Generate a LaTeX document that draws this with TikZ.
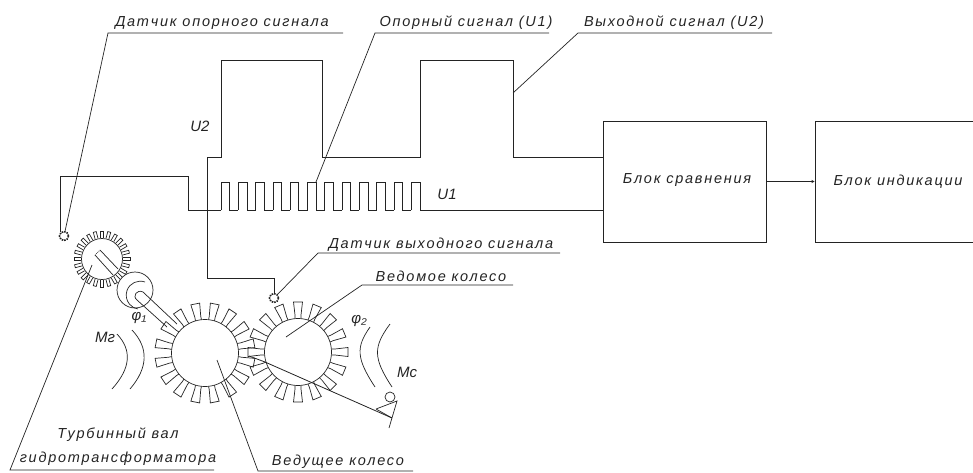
\documentclass[tikz,border=0pt]{standalone}
\usepackage{fontspec}
\setmainfont{Liberation Sans}
\newfontfamily\cadfont[LetterSpace=12]{Liberation Sans}
\usetikzlibrary{arrows.meta, calc}
\definecolor{inkline}{RGB}{35, 35, 35}
\tikzset{
  wire/.style={line width=0.8pt, color=inkline},
  thinline/.style={line width=0.7pt, color=inkline},
  caption/.style={inner sep=0pt, text=inkline, font=\fontsize{14.5}{14.5}\cadfont\itshape},
  smallcap/.style={inner sep=0pt, text=inkline, font=\fontsize{15}{15}\itshape},
  unitblock/.style={rectangle, draw=inkline, line width=1pt, fill=white, minimum height=121pt, inner sep=0pt},
  sensor/.style={circle, draw=inkline, line width=1.6pt, densely dotted, minimum size=9pt, inner sep=0pt},
  arrow/.style={-{Stealth[length=3pt, width=3pt]}, wire},
}
\begin{document}
\begin{tikzpicture}[x=1pt, y=-1pt]
        \useasboundingbox (0,0) rectangle (973,472);

        \node[unitblock, minimum width=163pt] (cmp) at (684.5,181.5) {};
        \node[unitblock, minimum width=162pt] (ind) at (896,181.5) {};
        \node[caption] (cmptext) at (687,180) {Блок сравнения};
        \node[caption] (indtext) at (898,182) {Блок индикации};
        \draw[arrow] (cmp.east) -- (ind.west);

        \node[sensor] (sensa) at (64,236) {};
        \node[sensor] (sensb) at (274,298) {};
        \coordinate (cmpua) at (cmp.west |- 0,210);
        \coordinate (cmpub) at (cmp.west |- 0,157);

        % signals
        \draw[wire] (sensa.north west) |- (188,176) |- (221,210);
        \foreach \k [evaluate=\k as \px using {221+8.65*\k}, evaluate=\k as \qx using {221+8.65*(\k+1)},
                     evaluate=\k as \rx using {221+8.65*(\k+2)}] in {0,2,...,22}
          \draw[wire] (\px,210) -- (\px,182) -- (\qx,182) -- (\qx,210) -- (\rx,210);
        \draw[wire] (420,210) -- (cmpua);
        \draw[wire] (sensb.north) |- (207.5,278) |- (221,157) |- (322,60) |- (420,157) |- (513,60) |- (cmpub);
        \node[smallcap] (lua) at (447,194) {U1};
        \node[smallcap] (lub) at (200,126) {U2};

        % turbine wheel
        \coordinate (turb) at (102,259);
        \draw[thinline] (turb) circle[radius=20.5];
        \foreach \a in {0,15,...,345}
          \draw[thinline, shift={(turb)}, rotate=\a] (21,-1.5) -- (28,-1.5) -- (28,1.5) -- (21,1.5);
        \draw[thinline] (95,255) -- (113,275) (100,250) -- (118,269);
        \draw[thinline, densely dotted] (95,255) -- (100,250);

        % coupling and shaft
        \coordinate (cpl) at (135,290);
        \draw[thinline, fill=white] (cpl) circle[radius=18];
        \draw[thinline] (145,282) arc[start angle=-70, end angle=-260, radius=14];
        \draw[thinline] (177,324) -- (143,292) .. controls (137,289) and (132,296) .. (137,300) -- (167,327);

        % wheels
        \coordinate (drv) at (205,353);
        \coordinate (drn) at (298,352);
        \foreach \gc/\off in {drv/11.25, drn/0} {
          \draw[thinline] (\gc) circle[radius=33.5];
          \foreach \n [evaluate=\n as \a using {\off+22.5*\n}] in {0,...,15}
            \draw[thinline, shift={(\gc)}, rotate=\a] (33.5,-3) -- (37,-3) -- (50,-4.5) -- (50,4.5) -- (37,3) -- (33.5,3);
        }

        % moments
        \draw[thinline] (117,334) .. controls (132,350) and (131,368) .. (112,389);
        \draw[thinline] (132,330) .. controls (149,348) and (148,368) .. (130,389);
        \draw[thinline] (370,327) .. controls (356,347) and (356,358) .. (375,387);
        \draw[thinline] (390,324) .. controls (373,347) and (373,358) .. (392,387);
        \node[smallcap] (phia) at (139,318) {φ₁};
        \node[smallcap] (phib) at (359,321) {φ₂};
        \node[smallcap] (mg) at (105,337) {Мг};
        \node[smallcap] (mc) at (407,372) {Мс};

        % brake
        \coordinate (brk) at (392,418);
        \draw[thinline] (390,397) circle[radius=5];
        \draw[thinline] (376,409) -- (397,401) -- (389,428) (376,409) -- (brk);
        \draw[wire] (249,356) -- (265,362) -- (brk);

        % callouts
        \node[caption] (lsa) at (222,23) {Датчик опорного сигнала};
        \node[caption] (lref) at (466,23) {Опорный сигнал (U1)};
        \node[caption] (lout) at (674,23) {Выходной сигнал (U2)};
        \node[caption] (lsb) at (441,245) {Датчик выходного сигнала};
        \node[caption] (ldn) at (441,276) {Ведомое колесо};
        \node[caption] (ldr) at (338,462) {Ведущее колесо};
        \node[caption] (lta) at (118,435) {Турбинный вал};
        \node[caption] (ltb) at (118,459) {гидротрансформатора};

        \draw[thinline] (343,33) -- (108,33) -- (sensa);
        \draw[thinline] (549,33) -- (375,33) -- (316,182);
        \draw[thinline] (772,33) -- (578,33) -- (513,93);
        \draw[thinline] (560,253) -- (318,253) -- (sensb);
        \draw[thinline] (513,285) -- (362,285) -- (286,337);
        \draw[thinline] (413,471) -- (258,471) -- (217,360);
        \draw[thinline] (214,470) -- (10,470) -- (92,265);
      \end{tikzpicture}
\end{document}
